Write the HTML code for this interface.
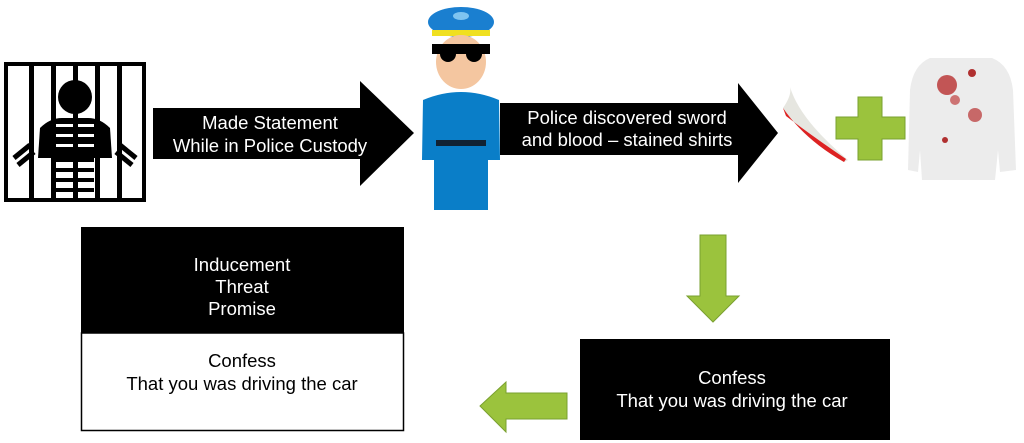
<!DOCTYPE html>
<html><head><meta charset="utf-8"><style>
html,body{margin:0;padding:0;background:#fff;width:1024px;height:443px;overflow:hidden}
svg{display:block}
text{font-family:"Liberation Sans",Arial,sans-serif;font-size:18.5px;text-anchor:middle}
</style></head><body>
<svg width="1024" height="443" viewBox="0 0 1024 443">
<!-- jail -->
<rect x="6" y="64" width="138" height="136" fill="#fff" stroke="#000" stroke-width="4"/>
<circle cx="75" cy="97" r="17" fill="#000"/>
<path d="M40 128 Q50 118 62 118 L88 118 Q100 118 110 128 L112 158 L38 158 Z" fill="#000"/>
<g fill="#fff">
<rect x="56" y="124" width="38" height="3"/><rect x="56" y="134" width="38" height="3"/><rect x="56" y="144" width="38" height="3"/>
</g>
<rect x="56" y="158" width="38" height="4" fill="#000"/><rect x="56" y="168" width="38" height="4" fill="#000"/><rect x="56" y="178" width="38" height="4" fill="#000"/><rect x="56" y="188" width="38" height="4" fill="#000"/>
<path d="M14 158 L30 145 M18 165 L34 152 M136 158 L120 145 M132 165 L116 152" stroke="#000" stroke-width="5"/>
<g fill="#000">
<rect x="29" y="64" width="5" height="136"/><rect x="51" y="64" width="5" height="136"/><rect x="73" y="64" width="5" height="136"/><rect x="95" y="64" width="5" height="136"/><rect x="117" y="64" width="5" height="136"/>
</g>
<!-- arrow 1 -->
<polygon points="153,108 360,108 360,81 414,133 360,186 360,159 153,159" fill="#000"/>
<text x="270" y="129" fill="#fff">Made Statement</text>
<text x="270" y="152" fill="#fff">While in Police Custody</text>
<!-- police -->
<ellipse cx="461" cy="22" rx="33" ry="15" fill="#1a7fd0"/>
<ellipse cx="461" cy="16" rx="8" ry="4" fill="#7fc4f0"/>
<rect x="432" y="30" width="58" height="6" fill="#f0e020"/>
<ellipse cx="461" cy="62" rx="25" ry="27" fill="#f4c6a0"/>
<rect x="432" y="44" width="58" height="10" fill="#000"/>
<circle cx="448" cy="54" r="8" fill="#000"/><circle cx="474" cy="54" r="8" fill="#000"/>
<path d="M423 100 Q461 84 499 100 L500 160 L488 160 L488 210 L434 210 L434 160 L422 160 Z" fill="#0a7ec8"/>
<rect x="436" y="140" width="50" height="6" fill="#123"/>
<!-- arrow 2 -->
<polygon points="500,103 738,103 738,83 778,133 738,183 738,155 500,155" fill="#000"/>
<text x="627" y="124" fill="#fff">Police discovered sword</text>
<text x="627" y="146" fill="#fff">and blood – stained shirts</text>
<!-- sword -->
<path d="M783 108 Q792 95 790 87 Q800 120 848 160 L844 162 Q805 140 783 108 Z" fill="#e6e6e0"/>
<path d="M783 108 Q805 140 844 162 L846 159 Q812 136 786 116 Z" fill="#d22"/>
<!-- plus -->
<polygon points="858,97 882,97 882,117 905,117 905,139 882,139 882,160 858,160 858,139 836,139 836,117 858,117" fill="#9bc33d" stroke="#7aa030" stroke-width="1"/>
<!-- shirt -->
<path d="M930 58 L992 58 Q1010 65 1013 90 L1016 170 L1000 172 L998 150 L995 180 L922 180 L920 150 L918 172 L908 170 L910 90 Q913 65 930 58 Z" fill="#ececec"/>
<circle cx="947" cy="85" r="10" fill="#b83030" opacity=".8"/><circle cx="975" cy="115" r="7" fill="#b83030" opacity=".7"/><circle cx="955" cy="100" r="5" fill="#c04040" opacity=".7"/><circle cx="972" cy="73" r="4" fill="#b03030"/><circle cx="945" cy="140" r="3" fill="#b03030"/>
<!-- down arrow -->
<polygon points="700,235 726,235 726,296 739,296 713,322 687,296 700,296" fill="#9bc33d" stroke="#7aa030" stroke-width="1"/>
<!-- right box -->
<rect x="580" y="339" width="310" height="101" fill="#000"/>
<text x="732" y="384" fill="#fff">Confess</text>
<text x="732" y="407" fill="#fff">That you was driving the car</text>
<!-- left arrow -->
<polygon points="480,406 506,382 506,393 567,393 567,419 506,419 506,432" fill="#9bc33d" stroke="#7aa030" stroke-width="1"/>
<!-- left box -->
<rect x="81" y="227" width="323" height="106" fill="#000"/>
<rect x="81.5" y="333" width="322" height="97.5" fill="#fff" stroke="#000" stroke-width="1.5"/>
<text x="242" y="271" fill="#fff">Inducement</text>
<text x="242" y="293" fill="#fff">Threat</text>
<text x="242" y="315" fill="#fff">Promise</text>
<text x="242" y="367" fill="#000">Confess</text>
<text x="242" y="390" fill="#000">That you was driving the car</text>
</svg>
</body></html>
